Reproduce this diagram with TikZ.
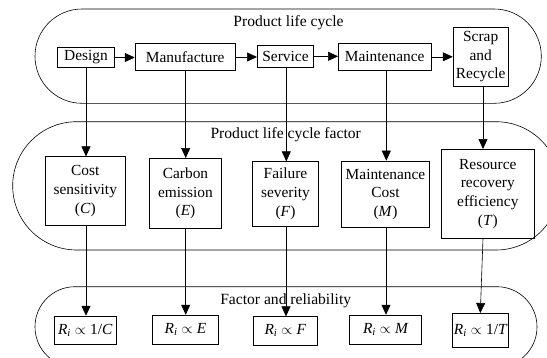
\documentclass[tikz,border=0pt]{standalone}
\usepackage{fontspec}
\usepackage{amsmath}
\setmainfont{Liberation Serif}
\usetikzlibrary{arrows.meta}
\begin{document}
\begin{tikzpicture}[x=1pt,y=-1pt,
  box/.style={draw, line width=0.6pt, inner sep=0pt, align=center, font=\fontsize{15.4}{18.7}\selectfont},
  ttl/.style={anchor=base, inner sep=0pt, font=\fontsize{15.6}{18.7}\selectfont},
  stad/.style={draw, line width=0.6pt},
  arr/.style={-{Triangle[length=10pt,width=9pt]}, line width=0.6pt}]
\useasboundingbox (0,0) rectangle (547,357);
\clip (0,0) rectangle (547,357);
% containers
\draw[stad, rounded corners=47pt] (35,9) rectangle (541.3,103.3);
\draw[stad, rounded corners=64pt] (12.7,121.7) rectangle (560,250);
\draw[stad, rounded corners=40pt] (35,286.7) rectangle (537,367);
% titles
\node[ttl] (t1) at (288.5,26.7) {Product life cycle};
\node[ttl] (t2) at (285.7,138) {Product life cycle factor};
\node[ttl] (t3) at (285.7,304) {Factor and reliability};
% row 1
\node[box, minimum width=56.6pt, minimum height=20.4pt] (design) at (86,57.5) {Design};
\node[box, minimum width=100.3pt, minimum height=27.4pt] (manuf) at (185.2,57) {Manufacture};
\node[box, minimum width=56.4pt, minimum height=22.7pt] (service) at (285.5,56.3) {Service};
\node[box, minimum width=92.7pt, minimum height=27pt] (maint) at (384.7,56.8) {Maintenance};
\node[box, minimum width=55.3pt, minimum height=58.7pt] (scrap) at (480.7,56.7) {Scrap\\and\\Recycle};
% row 2
\node[box, minimum width=80.7pt, minimum height=69pt] (cost) at (85.3,191.2) {Cost\\sensitivity\\(\textit{C})};
\node[box, minimum width=72.4pt, minimum height=70pt] (carbon) at (185.5,193.3) {Carbon\\emission\\(\textit{E})};
\node[box, minimum width=66.4pt, minimum height=64.3pt] (failure) at (285.5,193.8) {Failure\\severity\\(\textit{F})};
\node[box, minimum width=88.4pt, minimum height=66.7pt] (mcost) at (385.5,194.3) {Maintenance\\Cost\\(\textit{M})};
\node[box, minimum width=92.3pt, minimum height=89pt] (resource) at (487.8,193.8) {Resource\\recovery\\efficiency\\(\textit{T})};
% row 3
\node[box, minimum width=61.7pt, minimum height=28.3pt] (r1) at (85.2,330.2) {$\textit{R}_{\textit{i}}\propto\textup{1/}\textit{C}$};
\node[box, minimum width=66.4pt, minimum height=29.3pt] (r2) at (185.5,329.7) {$\textit{R}_{\textit{i}}\propto\textit{E}$};
\node[box, minimum width=64pt, minimum height=28.3pt] (r3) at (285.3,330.8) {$\textit{R}_{\textit{i}}\propto\textit{F}$};
\node[box, minimum width=71.6pt, minimum height=29.3pt] (r4) at (385.5,329.7) {$\textit{R}_{\textit{i}}\propto\textit{M}$};
\node[box, minimum width=56pt, minimum height=34pt] (r5) at (480.3,330.3) {$\textit{R}_{\textit{i}}\propto\textup{1/}\textit{T}$};
% horizontal arrows
\draw[arr] (design.east) -- (design.east -| manuf.west);
\draw[arr] (manuf.east) -- (manuf.east -| service.west);
\draw[arr] (service.east) -- (service.east -| maint.west);
\draw[arr] (maint.east) -- (maint.east -| scrap.west);
% row 1 -> row 2
\draw[arr] (design.south) -- (design.south |- cost.north);
\draw[arr] ([xshift=0.5pt]manuf.south) -- ([xshift=0.5pt]manuf.south |- carbon.north);
\draw[arr] ([xshift=0.8pt]service.south) -- ([xshift=0.8pt]service.south |- failure.north);
\draw[arr] ([xshift=1.6pt]maint.south) -- ([xshift=1.6pt]maint.south |- mcost.north);
\draw[arr] ([xshift=2.3pt]scrap.south) -- ([xshift=2.3pt]scrap.south |- resource.north);
% row 2 -> row 3
\draw[arr] ([xshift=0.7pt]cost.south) -- ([xshift=0.7pt]cost.south |- r1.north);
\draw[arr] ([xshift=0.2pt]carbon.south) -- ([xshift=0.2pt]carbon.south |- r2.north);
\draw[arr] ([xshift=0.5pt]failure.south) -- ([xshift=0.5pt]failure.south |- r3.north);
\draw[arr] ([xshift=0.5pt]mcost.south) -- ([xshift=0.5pt]mcost.south |- r4.north);
\draw[arr] ([xshift=-4.8pt]resource.south) -- (r5.north);
\end{tikzpicture}
\end{document}
